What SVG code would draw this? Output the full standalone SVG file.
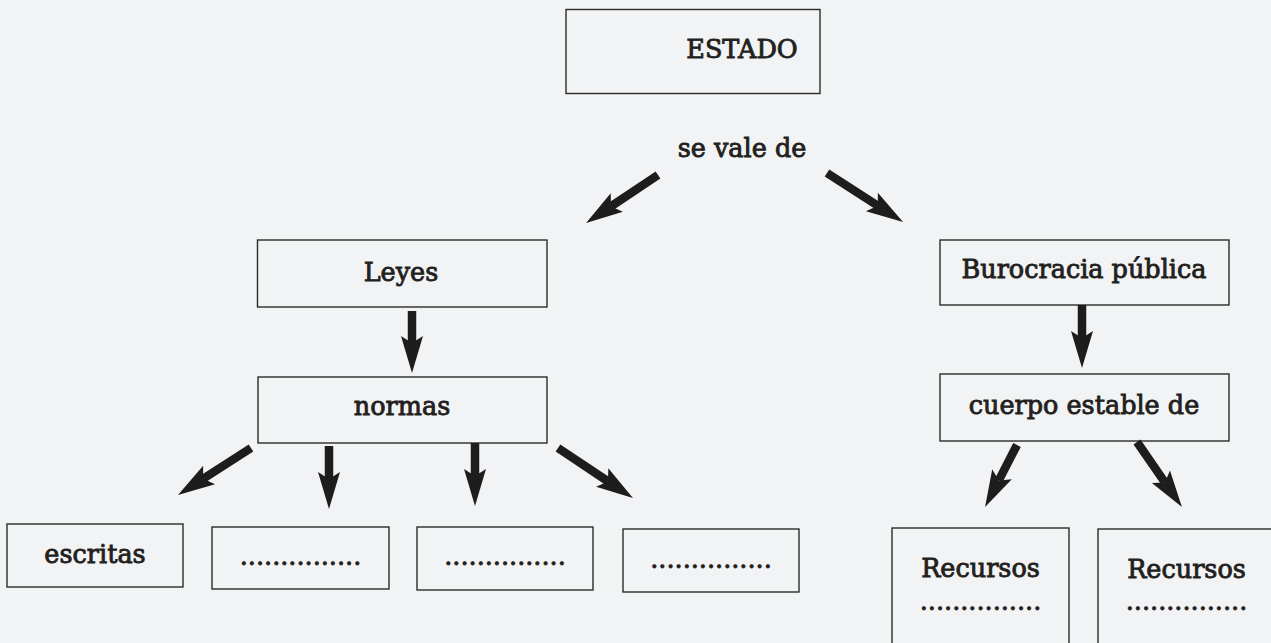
<svg xmlns="http://www.w3.org/2000/svg" width="1271" height="643" viewBox="0 0 1271 643">
<style>
.bx{fill:none;stroke:#2b2b2b;stroke-width:1.4}
.t{font-family:"DejaVu Serif","Liberation Serif",serif;font-size:25.5px;fill:#231f20;stroke:#231f20;stroke-width:0.85;text-anchor:middle}
.ar{stroke:#1e1c1c;stroke-width:8.5;fill:none;marker-end:url(#hd)}
</style>
<defs>
<marker id="hd" markerUnits="userSpaceOnUse" viewBox="-9 -13 42 26" refX="0" refY="0" markerWidth="42" markerHeight="26" orient="auto">
<path d="M-7,-11 L30,0 L-7,11 L0,0 Z" fill="#1e1c1c"/>
</marker>
</defs>
<rect width="1271" height="643" fill="#f2f3f5"/>
<g id="estado"><rect class="bx" x="566" y="9.5" width="254" height="84"/><text class="t" x="742" y="58">ESTADO</text></g>
<g id="sevalede"><text class="t" x="742" y="157">se vale de</text></g>
<g id="leyes"><rect class="bx" x="257.5" y="240" width="289.5" height="67"/><text class="t" x="401" y="281">Leyes</text></g>
<g id="normas"><rect class="bx" x="258" y="377" width="289" height="66"/><text class="t" x="402" y="415">normas</text></g>
<g id="burocracia"><rect class="bx" x="940" y="240" width="289" height="65"/><text class="t" x="1084" y="278">Burocracia pública</text></g>
<g id="cuerpo"><rect class="bx" x="940" y="374" width="289" height="67"/><text class="t" x="1084" y="414">cuerpo estable de</text></g>
<g id="escritas"><rect class="bx" x="7" y="524" width="176" height="63"/><text class="t" x="95" y="563">escritas</text></g>
<g id="blank1"><rect class="bx" x="212" y="527" width="177" height="62"/><text class="t" x="300.5" y="565">...............</text></g>
<g id="blank2"><rect class="bx" x="417" y="527" width="176" height="63"/><text class="t" x="505" y="565">...............</text></g>
<g id="blank3"><rect class="bx" x="623" y="529" width="176" height="63"/><text class="t" x="711" y="568">...............</text></g>
<g id="recursos1"><rect class="bx" x="892" y="528" width="177" height="130"/><text class="t" x="980.5" y="577">Recursos</text><text class="t" x="980.5" y="610">...............</text></g>
<g id="recursos2"><rect class="bx" x="1098" y="529" width="190" height="130"/><text class="t" x="1186.5" y="578">Recursos</text><text class="t" x="1186.5" y="610">...............</text></g>
<g id="connectors">
<line class="ar" x1="658" y1="175" x2="611" y2="206.4"/>
<line class="ar" x1="827" y1="173" x2="877.8" y2="205.7"/>
<line class="ar" x1="412" y1="311" x2="412" y2="343"/>
<line class="ar" x1="1082" y1="305" x2="1082" y2="338"/>
<line class="ar" x1="251" y1="448" x2="203.2" y2="478.8"/>
<line class="ar" x1="329" y1="446" x2="329" y2="479"/>
<line class="ar" x1="475" y1="443" x2="475" y2="476"/>
<line class="ar" x1="558" y1="448" x2="608" y2="481.4"/>
<line class="ar" x1="1017" y1="445" x2="998.8" y2="480.4"/>
<line class="ar" x1="1137" y1="442" x2="1164.9" y2="482.4"/>
</g>
</svg>
